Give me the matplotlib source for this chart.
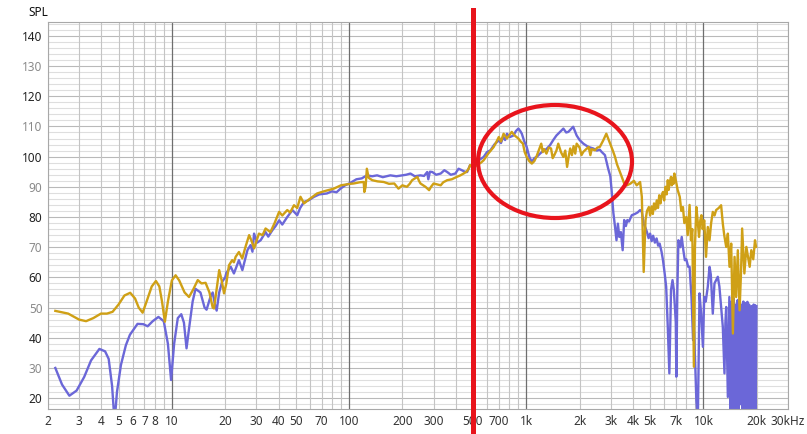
import numpy as np
from matplotlib import pyplot as plt
from matplotlib.patches import Ellipse
from matplotlib.transforms import blended_transform_factory

# blue trace (Hz, dB)
blue_f = [2.2, 2.4, 2.64, 2.9, 3.2, 3.5, 3.9, 4.2, 4.4, 4.6, 4.75, 4.9, 5.16, 5.5, 5.8, 6.4, 6.9, 7.3, 7.8, 8.4,
          9.0, 9.5, 9.9, 10.3, 10.8, 11.3, 11.7, 12.1, 12.5, 13.1, 13.6, 14.5, 15.3, 15.7, 16.5, 17.0, 17.5, 17.9,
          18.5, 19.2, 20.0, 20.3, 21.5, 22.4, 23.9, 25, 26.7, 27.8, 28.5, 29.1, 30.3, 31.7, 33.8, 35, 36.9, 38.5,
          40.3, 42, 44.8, 47.9, 51, 53, 55.7, 59, 63.5, 68, 75, 80, 85, 89.5, 95, 101, 110, 118, 126, 135, 144,
          155, 171, 185, 199, 210, 222, 235, 253, 265, 276, 280, 286, 295, 310, 329, 345, 358, 375, 398, 415,
          433, 450, 464, 482, 500, 530, 575, 600, 628, 660, 700, 720, 740, 760, 778, 810, 847, 875, 903, 925,
          944, 975, 1006, 1040, 1075, 1110, 1150, 1196, 1250, 1300, 1362, 1420, 1480, 1516, 1570, 1620, 1680,
          1728, 1780, 1840, 1880, 1925, 2000, 2100, 2200, 2300, 2390, 2500, 2600, 2660, 2780, 2900, 2980, 3030,
          3100, 3170, 3230, 3290, 3350, 3420, 3500, 3570, 3650, 3720, 3800, 3940, 4100, 4250, 4390, 4490, 4600,
          4700, 4800, 4900, 5000, 5100, 5200, 5320, 5440, 5550, 5660, 5800, 5910, 6050, 6160, 6290, 6420, 6500,
          6560, 6690, 6800, 6900, 6980, 7030, 7120, 7220, 7400, 7540, 7700, 7850, 8000, 8200, 8350, 8560, 8740,
          8850, 9000, 9120, 9300, 9400, 9500, 9700, 9930, 10100, 10300, 10580, 10820, 11000, 11290, 11540, 12050,
          12300, 12580, 12860, 13140, 13300, 13440, 13730, 14000, 14200, 14400, 14600, 14800, 15000, 15200,
          15400, 15600, 15800, 16000, 16200, 16400, 16600, 16800, 17000, 17200, 17460, 17700, 17900, 18100,
          18400, 18700, 18900, 19200, 19400, 19540, 19700, 19900]
blue_db = [30, 24.5, 20.8, 22.5, 27, 32.5, 36.3, 35.5, 33, 24, 12, 22, 31, 37.5, 41, 44.6, 44.5, 43.8, 45.5, 46.9,
           45.5, 38, 26, 38, 46.5, 47.8, 45, 36.5, 43, 52, 56.2, 55, 50, 49.3, 53.5, 55, 51, 49,
           55, 58.5, 60, 61.5, 63.5, 61.3, 65.7, 62.4, 69, 70.7, 68.5, 74.5, 71.5, 72.3, 75, 73.5, 75.6, 77,
           78.9, 77.5, 80, 82.3, 80.6, 83, 85, 85.5, 86.7, 87.5, 87.8, 88.5, 88.2, 89.4, 90.5, 91.2, 92.5, 92.8,
           93.8, 93.5, 93.8, 93.2, 93.8, 93.5, 93.8, 94, 94.4, 93.5, 93.8, 93.6, 94.9, 92.5, 95, 94.9, 94, 94.4,
           95.5, 94.9, 94, 94.4, 96, 95.5, 95, 94.9, 97.2, 96.8, 98.5, 99.9, 101.5, 102.1, 104, 105.4, 104.5,
           106.5, 105.5, 107.6, 106.5, 107, 108.5, 109.3, 108.5, 107.6, 105, 103.2, 100, 98.2, 99.5, 100, 101,
           102, 102.5, 103.8, 105.5, 107, 107.6, 108.5, 109.3, 108, 108.2, 109, 109.9, 108.5, 107, 105.5, 104.3,
           103.5, 103, 102.7, 102, 102.3, 101.6, 100.5, 96, 93.5, 89, 81.5, 76.7, 72.3, 77.8, 73.4, 75, 69, 79,
           77, 79, 78.5, 80.6, 81, 81.5, 82.3, 81.7, 77.8, 76.5, 75, 73, 74.5, 72, 73.8, 71.5, 72.9, 70.5, 71.2,
           68.5, 65.7, 61, 56.9, 43.6, 28.2, 45, 55.8, 59.1, 56, 50.2, 45, 27.1, 55, 72.3, 70, 73.4, 69, 65.7,
           66, 63.5, 63.5, 53.5, 39.2, 42, 30, 19.3, 13, 35, 54.7, 48, 37, 53.5, 52, 56.9, 63.5, 61, 48, 58, 60.2,
           57, 50.2, 43.6, 28.2, 45, 50.2, 20.4, 53.5, 12, 52, 15, 53, 10, 51, 14, 52.5, 11, 52.4, 18, 51, 12,
           52, 15, 51.5, 10, 51.9, 13, 51, 16, 50.5, 11, 51, 12, 50.8, 14, 50.5]

# gold trace (Hz, dB)
gold_f = [2.2, 2.6, 3.0, 3.28, 3.6, 3.98, 4.3, 4.63, 5.0, 5.4, 5.82, 6.2, 6.5, 6.84, 7.2, 7.7, 8.13, 8.5, 8.8,
          9.13, 9.5, 10.0, 10.5, 11.0, 11.8, 12.5, 13.2, 14.0, 14.7, 15.5, 16.3, 17.0, 17.3, 17.8, 18.5, 19.1,
          19.7, 20.3, 21.0, 21.9, 22.4, 22.9, 23.9, 24.97, 26, 27.3, 28.2, 29.1, 30, 31, 32.5, 33.8, 36, 38,
          40.3, 42, 44.8, 46.5, 48.9, 51, 53.2, 55.7, 60, 66, 72, 82, 90, 101.6, 106, 115, 121, 122, 124, 126,
          129, 135, 145, 157, 168, 180, 190, 200, 212, 220, 227, 243, 248, 253, 262, 270, 283, 290, 300, 315,
          329, 340, 358, 380, 406, 425, 443, 460, 473, 482, 500, 530, 555, 575, 610, 655, 680, 700, 720, 745,
          778, 800, 828, 860, 903, 930, 958, 980, 1006, 1040, 1075, 1110, 1140, 1175, 1215, 1240, 1260, 1300,
          1340, 1380, 1410, 1440, 1480, 1516, 1570, 1620, 1660, 1700, 1735, 1770, 1810, 1850, 1890, 1925, 2000,
          2050, 2100, 2180, 2250, 2300, 2340, 2440, 2520, 2600, 2720, 2830, 2900, 2980, 3080, 3170, 3250, 3350,
          3450, 3570, 3700, 3880, 4050, 4200, 4390, 4490, 4600, 4710, 4800, 4920, 5000, 5100, 5180, 5260, 5350,
          5450, 5540, 5630, 5720, 5800, 5910, 6000, 6100, 6200, 6290, 6370, 6450, 6560, 6630, 6700, 6780, 6850,
          6980, 7150, 7350, 7500, 7660, 7800, 8000, 8150, 8350, 8500, 8650, 8830, 8950, 9120, 9300, 9440, 9600,
          9740, 9900, 10100, 10340, 10580, 10820, 11050, 11290, 11550, 11790, 12200, 12580, 12860, 13100, 13440,
          13730, 14030, 14340, 14660, 14980, 15300, 15630, 15990, 16300, 16530, 17020, 17460, 18230, 18620,
          19100, 19540, 19800]
gold_db = [48.9, 48, 46, 45.5, 46.5, 48, 48, 48.6, 51, 54, 54.9, 53, 50, 48.3, 52, 57, 58.8, 57, 52,
           45.3, 52, 59, 60.7, 59, 55, 53.5, 56, 59.1, 58, 58.2, 55, 50, 49.7, 55, 62.4, 59,
           54.7, 58, 64, 65.7, 65, 66.8, 68.4, 66.3, 70, 74, 72, 69.6, 72, 74.5, 74, 76.2, 75, 78,
           81.7, 80.5, 82.3, 81.5, 83.9, 83, 86.7, 84.5, 86, 87.8, 88.5, 89.4, 90.5, 91, 91.1, 91.5, 91.6, 88.3,
           90, 96, 93, 92.2, 91.8, 91.6, 91, 91.1, 89.4, 90.5, 90, 91, 92.2, 93.3, 92, 91.1, 90.5, 90, 88.9, 90,
           91.1, 90.8, 90.5, 91.5, 92.2, 92.5, 93.3, 93.8, 94.4, 95, 96, 97.2, 96.5, 97.2, 98, 98.8, 101, 103.2,
           105, 106.5, 105, 107.6, 106, 107, 108.2, 107, 106, 105, 104.3, 101.5, 99.9, 98.5, 97.7, 98.5, 99.9,
           102, 104.3, 101.5, 102.5, 101, 103, 102.7, 99.5, 100.5, 102, 104.3, 101.5, 99.9, 102, 96.6, 100,
           102.7, 100.5, 103.5, 101, 104.3, 103, 100.5, 101.6, 102.5, 103.2, 100.5, 102.5, 102.1, 103, 103.2,
           105.4, 107.6, 106, 104.3, 102, 99.9, 97.5, 95.5, 93.5, 91.1, 90.5, 91.1, 92, 90.5, 91.6, 86.7, 61.8,
           78.9, 82, 83.3, 80.5, 83.5, 81, 84.5, 82.5, 85.5, 83, 87.2, 84.5, 87, 88.3, 85.5, 90, 87.5, 92.2, 89,
           91.5, 93.3, 90.5, 93, 91, 94.4, 92.2, 89, 86.7, 82, 83.3, 78, 80, 74, 84, 72.3, 76, 30.4, 70, 83.3,
           78, 73.4, 79, 80.6, 76, 78.9, 66.8, 76.7, 72.3, 78, 81.7, 80.5, 82.3, 83, 83.9, 77.8, 74, 70.1, 74.5,
           63.5, 71.2, 41.4, 66.8, 53.5, 69, 49.1, 62, 76.2, 61.3, 70.1, 63.5, 69, 66, 72.3, 70.1]

xticks = [2, 3, 4, 5, 6, 7, 8, 10, 20, 30, 40, 50, 70, 100, 200, 300, 500, 700,
          1000, 2000, 3000, 4000, 5000, 7000, 10000, 20000, 30000]
xlabels = ['2', '3', '4', '5', '6', '7', '8', '10', '20', '30', '40', '50', '70', '100', '200', '300', '500', '700',
           '1k', '2k', '3k', '4k', '5k', '7k', '10k', '20k', '30kHz']

plt.rcParams['font.family'] = ['Noto Sans', 'DejaVu Sans']

fig = plt.figure(figsize=(8.07, 4.34), dpi=100)
ax = fig.add_axes([48 / 807, 25 / 434, 740 / 807, 387 / 434])
ax.set_xscale('log')
ax.set_xlim(2, 30000)
ax.set_ylim(16.4, 144.6)

# grid
for v in np.arange(18, 145, 2):
    ax.axhline(v, color='#b9b9b9' if v % 10 == 0 else '#dedede', lw=0.8, zorder=0)
for dec in [1, 10, 100, 1000, 10000]:
    for m in range(2, 10):
        f = dec * m
        if 2 <= f <= 30000:
            ax.axvline(f, color='#c4c4c4', lw=0.8, zorder=0)
    if dec >= 10:
        ax.axvline(dec, color='#6e6e6e', lw=0.9, zorder=0)

ax.plot(blue_f, blue_db, color='#6b67d8', lw=1.7, zorder=2)
ax.plot(gold_f, gold_db, color='#cfa016', lw=1.7, zorder=3)

ax.set_xticks(xticks)
ax.set_xticklabels(xlabels)
ax.xaxis.set_minor_locator(plt.NullLocator())
ax.set_yticks(range(20, 141, 10))
ax.tick_params(length=0, labelsize=8.5, pad=4)
for lbl, v in zip(ax.get_yticklabels(), range(20, 141, 10)):
    lbl.set_color('#222222' if v % 20 == 0 else '#8a8a8a')
for lbl in ax.get_xticklabels():
    lbl.set_color('#333333')
for s in ax.spines.values():
    s.set_color('#a8a8a8')
    s.set_linewidth(0.8)

fig.text(38 / 807, 1 - 12 / 434, 'SPL', fontsize=8.5, ha='center', va='center', color='#111111')

# red marker line at 500 Hz and ellipse
tr = blended_transform_factory(ax.transData, fig.transFigure)
ax.plot([500, 500], [0, 1 - 10 / 434], color='#e8141c', lw=3.6, transform=tr, clip_on=False, zorder=5)
ell = Ellipse(((555 - 48) / 740, (409 - 161.5) / 387), 154 / 740, 113 / 387,
              transform=ax.transAxes, fill=False, edgecolor='#e8141c', lw=3.0, zorder=6)
ax.add_patch(ell)

plt.savefig('out.png', dpi=100)
